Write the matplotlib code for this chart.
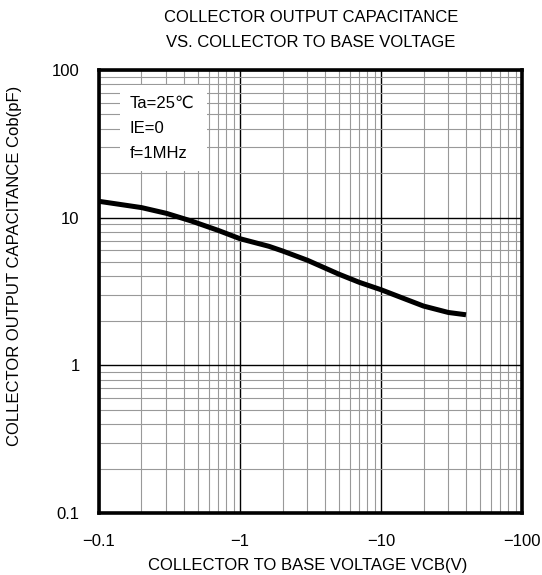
import numpy as np
import matplotlib
matplotlib.use("Agg")
import matplotlib.pyplot as plt
from matplotlib.ticker import FixedLocator, NullFormatter
from matplotlib.patches import Rectangle

# data (|VCB| in volts, Cob in pF)
vcb = [0.1, 0.2, 0.3, 0.45, 0.7, 1.0, 1.6, 2.0, 3.0, 5.0, 7.0, 10, 15, 20, 30, 40]
cob = [12.9, 11.7, 10.7, 9.5, 8.2, 7.2, 6.4, 5.95, 5.15, 4.15, 3.65, 3.25, 2.8, 2.52, 2.28, 2.2]

x_ticks = [0.1, 1, 10, 100]
x_labels = ["\u22120.1", "\u22121", "\u221210", "\u2212100"]
y_ticks = [0.1, 1, 10, 100]
y_labels = ["0.1", "1", "10", "100"]

plt.rcParams["font.family"] = ["Liberation Sans", "DejaVu Sans"]
fs = 12

fig = plt.figure(figsize=(5.42, 5.75), dpi=100)
ax = fig.add_axes([0.1827, 0.1078, 0.7806, 0.7705])
ax.set_xscale("log")
ax.set_yscale("log")
ax.set_xlim(0.1, 100)
ax.set_ylim(0.1, 100)

minor = [m * 10.0 ** d for d in (-1, 0, 1) for m in range(2, 10)]
ax.xaxis.set_minor_locator(FixedLocator(minor))
ax.yaxis.set_minor_locator(FixedLocator(minor))
ax.xaxis.set_minor_formatter(NullFormatter())
ax.yaxis.set_minor_formatter(NullFormatter())
ax.set_xticks(x_ticks)
ax.set_xticklabels(x_labels, fontsize=fs)
ax.set_yticks(y_ticks)
ax.set_yticklabels(y_labels, fontsize=fs)
ax.tick_params(which="both", length=0)
ax.tick_params(axis="x", pad=15)
ax.tick_params(axis="y", pad=14)

ax.grid(True, which="minor", color="#999999", linewidth=0.8)
ax.grid(True, which="major", color="black", linewidth=1.0)
ax.set_axisbelow(True)

for s in ax.spines.values():
    s.set_linewidth(2.6)

ax.plot(vcb, cob, "-k", linewidth=3.6, solid_capstyle="butt", solid_joinstyle="round", zorder=3)

# white box behind the conditions text
ax.add_patch(Rectangle((0.050, 0.772), 0.205, 0.194, transform=ax.transAxes,
                       fc="white", ec="none", zorder=2.5))
ax.text(0.073, 0.942, "Ta=25\u2103\nIE=0\nf=1MHz", transform=ax.transAxes,
        fontsize=fs, va="top", ha="left", linespacing=1.85, zorder=4)

fig.text(0.574, 0.969, "COLLECTOR OUTPUT CAPACITANCE", ha="center", va="center", fontsize=fs)
fig.text(0.574, 0.926, "VS. COLLECTOR TO BASE VOLTAGE", ha="center", va="center", fontsize=fs)
fig.text(0.568, 0.017, "COLLECTOR TO BASE VOLTAGE VCB(V)", ha="center", va="center", fontsize=fs)
fig.text(0.026, 0.537, "COLLECTOR OUTPUT CAPACITANCE Cob(pF)", ha="center", va="center",
         rotation=90, fontsize=fs)

fig.savefig("out.png", dpi=100)
